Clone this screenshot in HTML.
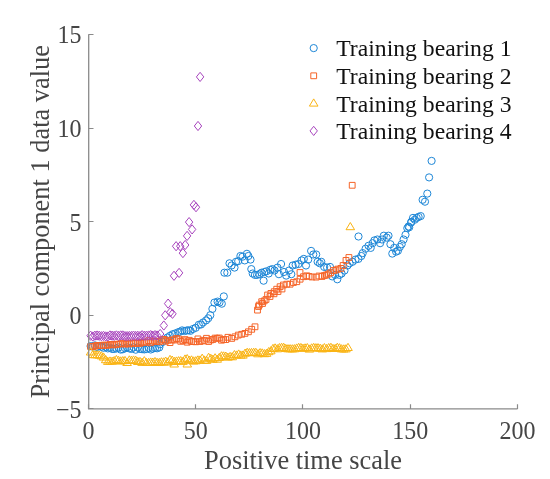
<!DOCTYPE html>
<html><head><meta charset="utf-8"><style>
html,body{margin:0;padding:0;background:#fff;width:550px;height:479px;overflow:hidden}
svg{display:block;filter:blur(0.3px)}
text{font-family:"Liberation Serif",serif}
</style></head><body>
<svg width="550" height="479" viewBox="0 0 550 479">
<rect width="550" height="479" fill="#fff"/>
<path d="M94.2 346.1a3.6 3.6 0 1 0 -7.2 0a3.6 3.6 0 1 0 7.2 0zM96.4 346.6a3.6 3.6 0 1 0 -7.2 0a3.6 3.6 0 1 0 7.2 0zM98.5 345.4a3.6 3.6 0 1 0 -7.2 0a3.6 3.6 0 1 0 7.2 0zM100.7 347.0a3.6 3.6 0 1 0 -7.2 0a3.6 3.6 0 1 0 7.2 0zM102.8 345.9a3.6 3.6 0 1 0 -7.2 0a3.6 3.6 0 1 0 7.2 0zM105.0 346.7a3.6 3.6 0 1 0 -7.2 0a3.6 3.6 0 1 0 7.2 0zM107.1 347.8a3.6 3.6 0 1 0 -7.2 0a3.6 3.6 0 1 0 7.2 0zM109.3 346.9a3.6 3.6 0 1 0 -7.2 0a3.6 3.6 0 1 0 7.2 0zM111.4 348.4a3.6 3.6 0 1 0 -7.2 0a3.6 3.6 0 1 0 7.2 0zM113.5 347.7a3.6 3.6 0 1 0 -7.2 0a3.6 3.6 0 1 0 7.2 0zM115.7 348.9a3.6 3.6 0 1 0 -7.2 0a3.6 3.6 0 1 0 7.2 0zM117.8 349.0a3.6 3.6 0 1 0 -7.2 0a3.6 3.6 0 1 0 7.2 0zM120.0 348.4a3.6 3.6 0 1 0 -7.2 0a3.6 3.6 0 1 0 7.2 0zM122.1 347.5a3.6 3.6 0 1 0 -7.2 0a3.6 3.6 0 1 0 7.2 0zM124.3 349.6a3.6 3.6 0 1 0 -7.2 0a3.6 3.6 0 1 0 7.2 0zM126.4 349.3a3.6 3.6 0 1 0 -7.2 0a3.6 3.6 0 1 0 7.2 0zM128.6 348.3a3.6 3.6 0 1 0 -7.2 0a3.6 3.6 0 1 0 7.2 0zM130.7 347.4a3.6 3.6 0 1 0 -7.2 0a3.6 3.6 0 1 0 7.2 0zM132.9 348.4a3.6 3.6 0 1 0 -7.2 0a3.6 3.6 0 1 0 7.2 0zM135.0 348.9a3.6 3.6 0 1 0 -7.2 0a3.6 3.6 0 1 0 7.2 0zM137.1 347.3a3.6 3.6 0 1 0 -7.2 0a3.6 3.6 0 1 0 7.2 0zM139.3 349.7a3.6 3.6 0 1 0 -7.2 0a3.6 3.6 0 1 0 7.2 0zM141.4 347.5a3.6 3.6 0 1 0 -7.2 0a3.6 3.6 0 1 0 7.2 0zM143.6 348.9a3.6 3.6 0 1 0 -7.2 0a3.6 3.6 0 1 0 7.2 0zM145.7 349.2a3.6 3.6 0 1 0 -7.2 0a3.6 3.6 0 1 0 7.2 0zM147.9 349.4a3.6 3.6 0 1 0 -7.2 0a3.6 3.6 0 1 0 7.2 0zM150.0 349.0a3.6 3.6 0 1 0 -7.2 0a3.6 3.6 0 1 0 7.2 0zM152.2 347.8a3.6 3.6 0 1 0 -7.2 0a3.6 3.6 0 1 0 7.2 0zM154.3 349.5a3.6 3.6 0 1 0 -7.2 0a3.6 3.6 0 1 0 7.2 0zM156.4 348.6a3.6 3.6 0 1 0 -7.2 0a3.6 3.6 0 1 0 7.2 0zM158.6 348.0a3.6 3.6 0 1 0 -7.2 0a3.6 3.6 0 1 0 7.2 0zM160.7 348.3a3.6 3.6 0 1 0 -7.2 0a3.6 3.6 0 1 0 7.2 0zM162.9 347.4a3.6 3.6 0 1 0 -7.2 0a3.6 3.6 0 1 0 7.2 0zM163.6 344.3a3.6 3.6 0 1 0 -7.2 0a3.6 3.6 0 1 0 7.2 0zM166.1 342.0a3.6 3.6 0 1 0 -7.2 0a3.6 3.6 0 1 0 7.2 0zM168.6 339.6a3.6 3.6 0 1 0 -7.2 0a3.6 3.6 0 1 0 7.2 0zM171.1 337.5a3.6 3.6 0 1 0 -7.2 0a3.6 3.6 0 1 0 7.2 0zM173.6 335.8a3.6 3.6 0 1 0 -7.2 0a3.6 3.6 0 1 0 7.2 0zM176.1 334.3a3.6 3.6 0 1 0 -7.2 0a3.6 3.6 0 1 0 7.2 0zM178.6 333.5a3.6 3.6 0 1 0 -7.2 0a3.6 3.6 0 1 0 7.2 0zM181.6 332.3a3.6 3.6 0 1 0 -7.2 0a3.6 3.6 0 1 0 7.2 0zM183.6 331.7a3.6 3.6 0 1 0 -7.2 0a3.6 3.6 0 1 0 7.2 0zM185.7 330.4a3.6 3.6 0 1 0 -7.2 0a3.6 3.6 0 1 0 7.2 0zM188.1 331.0a3.6 3.6 0 1 0 -7.2 0a3.6 3.6 0 1 0 7.2 0zM190.1 330.6a3.6 3.6 0 1 0 -7.2 0a3.6 3.6 0 1 0 7.2 0zM192.0 330.2a3.6 3.6 0 1 0 -7.2 0a3.6 3.6 0 1 0 7.2 0zM194.1 330.8a3.6 3.6 0 1 0 -7.2 0a3.6 3.6 0 1 0 7.2 0zM196.6 329.0a3.6 3.6 0 1 0 -7.2 0a3.6 3.6 0 1 0 7.2 0zM199.3 327.8a3.6 3.6 0 1 0 -7.2 0a3.6 3.6 0 1 0 7.2 0zM202.4 324.8a3.6 3.6 0 1 0 -7.2 0a3.6 3.6 0 1 0 7.2 0zM204.6 324.5a3.6 3.6 0 1 0 -7.2 0a3.6 3.6 0 1 0 7.2 0zM206.6 322.5a3.6 3.6 0 1 0 -7.2 0a3.6 3.6 0 1 0 7.2 0zM209.7 320.4a3.6 3.6 0 1 0 -7.2 0a3.6 3.6 0 1 0 7.2 0zM211.8 318.3a3.6 3.6 0 1 0 -7.2 0a3.6 3.6 0 1 0 7.2 0zM213.9 315.2a3.6 3.6 0 1 0 -7.2 0a3.6 3.6 0 1 0 7.2 0zM216.0 308.9a3.6 3.6 0 1 0 -7.2 0a3.6 3.6 0 1 0 7.2 0zM218.0 302.6a3.6 3.6 0 1 0 -7.2 0a3.6 3.6 0 1 0 7.2 0zM221.2 301.6a3.6 3.6 0 1 0 -7.2 0a3.6 3.6 0 1 0 7.2 0zM223.1 302.5a3.6 3.6 0 1 0 -7.2 0a3.6 3.6 0 1 0 7.2 0zM225.4 303.7a3.6 3.6 0 1 0 -7.2 0a3.6 3.6 0 1 0 7.2 0zM227.4 296.4a3.6 3.6 0 1 0 -7.2 0a3.6 3.6 0 1 0 7.2 0zM228.0 272.7a3.6 3.6 0 1 0 -7.2 0a3.6 3.6 0 1 0 7.2 0zM230.9 272.7a3.6 3.6 0 1 0 -7.2 0a3.6 3.6 0 1 0 7.2 0zM233.1 263.3a3.6 3.6 0 1 0 -7.2 0a3.6 3.6 0 1 0 7.2 0zM235.2 265.5a3.6 3.6 0 1 0 -7.2 0a3.6 3.6 0 1 0 7.2 0zM238.1 267.6a3.6 3.6 0 1 0 -7.2 0a3.6 3.6 0 1 0 7.2 0zM239.6 261.8a3.6 3.6 0 1 0 -7.2 0a3.6 3.6 0 1 0 7.2 0zM241.8 261.1a3.6 3.6 0 1 0 -7.2 0a3.6 3.6 0 1 0 7.2 0zM244.0 256.0a3.6 3.6 0 1 0 -7.2 0a3.6 3.6 0 1 0 7.2 0zM246.1 256.7a3.6 3.6 0 1 0 -7.2 0a3.6 3.6 0 1 0 7.2 0zM248.3 260.4a3.6 3.6 0 1 0 -7.2 0a3.6 3.6 0 1 0 7.2 0zM250.5 253.8a3.6 3.6 0 1 0 -7.2 0a3.6 3.6 0 1 0 7.2 0zM252.0 256.0a3.6 3.6 0 1 0 -7.2 0a3.6 3.6 0 1 0 7.2 0zM254.1 259.6a3.6 3.6 0 1 0 -7.2 0a3.6 3.6 0 1 0 7.2 0zM254.9 269.1a3.6 3.6 0 1 0 -7.2 0a3.6 3.6 0 1 0 7.2 0zM256.3 273.5a3.6 3.6 0 1 0 -7.2 0a3.6 3.6 0 1 0 7.2 0zM258.5 274.9a3.6 3.6 0 1 0 -7.2 0a3.6 3.6 0 1 0 7.2 0zM260.7 274.9a3.6 3.6 0 1 0 -7.2 0a3.6 3.6 0 1 0 7.2 0zM262.9 274.2a3.6 3.6 0 1 0 -7.2 0a3.6 3.6 0 1 0 7.2 0zM265.1 272.7a3.6 3.6 0 1 0 -7.2 0a3.6 3.6 0 1 0 7.2 0zM267.2 280.7a3.6 3.6 0 1 0 -7.2 0a3.6 3.6 0 1 0 7.2 0zM268.0 272.0a3.6 3.6 0 1 0 -7.2 0a3.6 3.6 0 1 0 7.2 0zM270.1 271.3a3.6 3.6 0 1 0 -7.2 0a3.6 3.6 0 1 0 7.2 0zM272.3 273.5a3.6 3.6 0 1 0 -7.2 0a3.6 3.6 0 1 0 7.2 0zM273.8 269.8a3.6 3.6 0 1 0 -7.2 0a3.6 3.6 0 1 0 7.2 0zM276.0 269.1a3.6 3.6 0 1 0 -7.2 0a3.6 3.6 0 1 0 7.2 0zM278.1 270.5a3.6 3.6 0 1 0 -7.2 0a3.6 3.6 0 1 0 7.2 0zM281.1 267.6a3.6 3.6 0 1 0 -7.2 0a3.6 3.6 0 1 0 7.2 0zM282.5 274.2a3.6 3.6 0 1 0 -7.2 0a3.6 3.6 0 1 0 7.2 0zM284.7 264.0a3.6 3.6 0 1 0 -7.2 0a3.6 3.6 0 1 0 7.2 0zM287.6 272.0a3.6 3.6 0 1 0 -7.2 0a3.6 3.6 0 1 0 7.2 0zM289.8 275.6a3.6 3.6 0 1 0 -7.2 0a3.6 3.6 0 1 0 7.2 0zM292.7 270.5a3.6 3.6 0 1 0 -7.2 0a3.6 3.6 0 1 0 7.2 0zM294.9 274.2a3.6 3.6 0 1 0 -7.2 0a3.6 3.6 0 1 0 7.2 0zM296.3 265.5a3.6 3.6 0 1 0 -7.2 0a3.6 3.6 0 1 0 7.2 0zM299.2 264.7a3.6 3.6 0 1 0 -7.2 0a3.6 3.6 0 1 0 7.2 0zM302.1 264.0a3.6 3.6 0 1 0 -7.2 0a3.6 3.6 0 1 0 7.2 0zM305.2 260.4a3.6 3.6 0 1 0 -7.2 0a3.6 3.6 0 1 0 7.2 0zM307.4 258.9a3.6 3.6 0 1 0 -7.2 0a3.6 3.6 0 1 0 7.2 0zM309.6 265.5a3.6 3.6 0 1 0 -7.2 0a3.6 3.6 0 1 0 7.2 0zM311.8 259.6a3.6 3.6 0 1 0 -7.2 0a3.6 3.6 0 1 0 7.2 0zM314.7 250.9a3.6 3.6 0 1 0 -7.2 0a3.6 3.6 0 1 0 7.2 0zM316.9 254.5a3.6 3.6 0 1 0 -7.2 0a3.6 3.6 0 1 0 7.2 0zM319.8 254.5a3.6 3.6 0 1 0 -7.2 0a3.6 3.6 0 1 0 7.2 0zM321.2 261.8a3.6 3.6 0 1 0 -7.2 0a3.6 3.6 0 1 0 7.2 0zM323.4 263.3a3.6 3.6 0 1 0 -7.2 0a3.6 3.6 0 1 0 7.2 0zM324.9 261.8a3.6 3.6 0 1 0 -7.2 0a3.6 3.6 0 1 0 7.2 0zM327.8 266.9a3.6 3.6 0 1 0 -7.2 0a3.6 3.6 0 1 0 7.2 0zM330.7 267.6a3.6 3.6 0 1 0 -7.2 0a3.6 3.6 0 1 0 7.2 0zM333.6 266.9a3.6 3.6 0 1 0 -7.2 0a3.6 3.6 0 1 0 7.2 0zM335.8 276.4a3.6 3.6 0 1 0 -7.2 0a3.6 3.6 0 1 0 7.2 0zM338.7 274.9a3.6 3.6 0 1 0 -7.2 0a3.6 3.6 0 1 0 7.2 0zM340.9 279.3a3.6 3.6 0 1 0 -7.2 0a3.6 3.6 0 1 0 7.2 0zM343.1 274.9a3.6 3.6 0 1 0 -7.2 0a3.6 3.6 0 1 0 7.2 0zM345.2 273.5a3.6 3.6 0 1 0 -7.2 0a3.6 3.6 0 1 0 7.2 0zM348.1 270.5a3.6 3.6 0 1 0 -7.2 0a3.6 3.6 0 1 0 7.2 0zM351.1 265.5a3.6 3.6 0 1 0 -7.2 0a3.6 3.6 0 1 0 7.2 0zM353.2 263.3a3.6 3.6 0 1 0 -7.2 0a3.6 3.6 0 1 0 7.2 0zM356.1 261.8a3.6 3.6 0 1 0 -7.2 0a3.6 3.6 0 1 0 7.2 0zM359.1 259.6a3.6 3.6 0 1 0 -7.2 0a3.6 3.6 0 1 0 7.2 0zM362.0 258.9a3.6 3.6 0 1 0 -7.2 0a3.6 3.6 0 1 0 7.2 0zM364.9 256.0a3.6 3.6 0 1 0 -7.2 0a3.6 3.6 0 1 0 7.2 0zM366.3 253.1a3.6 3.6 0 1 0 -7.2 0a3.6 3.6 0 1 0 7.2 0zM369.2 248.7a3.6 3.6 0 1 0 -7.2 0a3.6 3.6 0 1 0 7.2 0zM372.1 245.8a3.6 3.6 0 1 0 -7.2 0a3.6 3.6 0 1 0 7.2 0zM362.1 236.5a3.6 3.6 0 1 0 -7.2 0a3.6 3.6 0 1 0 7.2 0zM374.3 247.9a3.6 3.6 0 1 0 -7.2 0a3.6 3.6 0 1 0 7.2 0zM376.2 243.2a3.6 3.6 0 1 0 -7.2 0a3.6 3.6 0 1 0 7.2 0zM378.0 240.4a3.6 3.6 0 1 0 -7.2 0a3.6 3.6 0 1 0 7.2 0zM380.9 239.5a3.6 3.6 0 1 0 -7.2 0a3.6 3.6 0 1 0 7.2 0zM383.7 243.2a3.6 3.6 0 1 0 -7.2 0a3.6 3.6 0 1 0 7.2 0zM385.6 239.5a3.6 3.6 0 1 0 -7.2 0a3.6 3.6 0 1 0 7.2 0zM387.4 235.7a3.6 3.6 0 1 0 -7.2 0a3.6 3.6 0 1 0 7.2 0zM390.3 237.6a3.6 3.6 0 1 0 -7.2 0a3.6 3.6 0 1 0 7.2 0zM392.1 235.7a3.6 3.6 0 1 0 -7.2 0a3.6 3.6 0 1 0 7.2 0zM394.0 244.2a3.6 3.6 0 1 0 -7.2 0a3.6 3.6 0 1 0 7.2 0zM395.9 253.6a3.6 3.6 0 1 0 -7.2 0a3.6 3.6 0 1 0 7.2 0zM397.8 247.9a3.6 3.6 0 1 0 -7.2 0a3.6 3.6 0 1 0 7.2 0zM399.7 251.7a3.6 3.6 0 1 0 -7.2 0a3.6 3.6 0 1 0 7.2 0zM401.5 250.8a3.6 3.6 0 1 0 -7.2 0a3.6 3.6 0 1 0 7.2 0zM403.4 247.0a3.6 3.6 0 1 0 -7.2 0a3.6 3.6 0 1 0 7.2 0zM405.3 244.2a3.6 3.6 0 1 0 -7.2 0a3.6 3.6 0 1 0 7.2 0zM407.2 239.5a3.6 3.6 0 1 0 -7.2 0a3.6 3.6 0 1 0 7.2 0zM409.1 234.8a3.6 3.6 0 1 0 -7.2 0a3.6 3.6 0 1 0 7.2 0zM410.9 228.2a3.6 3.6 0 1 0 -7.2 0a3.6 3.6 0 1 0 7.2 0zM412.1 226.5a3.6 3.6 0 1 0 -7.2 0a3.6 3.6 0 1 0 7.2 0zM412.8 227.3a3.6 3.6 0 1 0 -7.2 0a3.6 3.6 0 1 0 7.2 0zM414.7 222.6a3.6 3.6 0 1 0 -7.2 0a3.6 3.6 0 1 0 7.2 0zM414.9 221.8a3.6 3.6 0 1 0 -7.2 0a3.6 3.6 0 1 0 7.2 0zM416.6 217.9a3.6 3.6 0 1 0 -7.2 0a3.6 3.6 0 1 0 7.2 0zM418.4 219.7a3.6 3.6 0 1 0 -7.2 0a3.6 3.6 0 1 0 7.2 0zM420.3 217.9a3.6 3.6 0 1 0 -7.2 0a3.6 3.6 0 1 0 7.2 0zM422.2 216.9a3.6 3.6 0 1 0 -7.2 0a3.6 3.6 0 1 0 7.2 0zM424.3 216.1a3.6 3.6 0 1 0 -7.2 0a3.6 3.6 0 1 0 7.2 0zM426.2 199.8a3.6 3.6 0 1 0 -7.2 0a3.6 3.6 0 1 0 7.2 0zM428.6 201.7a3.6 3.6 0 1 0 -7.2 0a3.6 3.6 0 1 0 7.2 0zM430.9 193.6a3.6 3.6 0 1 0 -7.2 0a3.6 3.6 0 1 0 7.2 0zM432.7 177.4a3.6 3.6 0 1 0 -7.2 0a3.6 3.6 0 1 0 7.2 0zM435.2 160.9a3.6 3.6 0 1 0 -7.2 0a3.6 3.6 0 1 0 7.2 0z" fill="none" stroke="#1E87D7" stroke-width="1.0"/>
<path d="M87.7 343.7h5.8v5.8h-5.8zM89.9 343.6h5.8v5.8h-5.8zM92.0 343.2h5.8v5.8h-5.8zM94.2 342.5h5.8v5.8h-5.8zM96.3 342.7h5.8v5.8h-5.8zM98.5 342.7h5.8v5.8h-5.8zM100.6 342.2h5.8v5.8h-5.8zM102.8 342.3h5.8v5.8h-5.8zM104.9 342.4h5.8v5.8h-5.8zM107.0 341.6h5.8v5.8h-5.8zM109.2 341.6h5.8v5.8h-5.8zM111.3 342.0h5.8v5.8h-5.8zM113.5 341.4h5.8v5.8h-5.8zM115.6 341.3h5.8v5.8h-5.8zM117.8 340.7h5.8v5.8h-5.8zM119.9 340.8h5.8v5.8h-5.8zM122.1 341.2h5.8v5.8h-5.8zM124.2 340.2h5.8v5.8h-5.8zM126.4 341.1h5.8v5.8h-5.8zM128.5 340.6h5.8v5.8h-5.8zM130.6 340.0h5.8v5.8h-5.8zM132.8 340.6h5.8v5.8h-5.8zM134.9 340.0h5.8v5.8h-5.8zM137.1 340.5h5.8v5.8h-5.8zM139.2 339.5h5.8v5.8h-5.8zM141.4 339.2h5.8v5.8h-5.8zM143.5 339.3h5.8v5.8h-5.8zM145.7 337.7h5.8v5.8h-5.8zM147.8 339.9h5.8v5.8h-5.8zM149.9 338.2h5.8v5.8h-5.8zM152.1 338.5h5.8v5.8h-5.8zM154.2 338.4h5.8v5.8h-5.8zM156.4 338.8h5.8v5.8h-5.8zM158.5 337.1h5.8v5.8h-5.8zM160.7 336.5h5.8v5.8h-5.8zM162.8 338.3h5.8v5.8h-5.8zM165.0 337.4h5.8v5.8h-5.8zM167.1 339.7h5.8v5.8h-5.8zM169.3 337.0h5.8v5.8h-5.8zM171.4 337.1h5.8v5.8h-5.8zM173.5 335.6h5.8v5.8h-5.8zM175.7 336.2h5.8v5.8h-5.8zM177.8 338.4h5.8v5.8h-5.8zM180.0 337.9h5.8v5.8h-5.8zM182.1 336.7h5.8v5.8h-5.8zM184.3 339.3h5.8v5.8h-5.8zM186.4 337.4h5.8v5.8h-5.8zM188.6 338.6h5.8v5.8h-5.8zM190.7 338.7h5.8v5.8h-5.8zM192.8 338.9h5.8v5.8h-5.8zM195.0 336.0h5.8v5.8h-5.8zM197.1 338.6h5.8v5.8h-5.8zM199.3 338.0h5.8v5.8h-5.8zM201.4 337.4h5.8v5.8h-5.8zM203.6 335.4h5.8v5.8h-5.8zM205.7 338.6h5.8v5.8h-5.8zM207.9 337.1h5.8v5.8h-5.8zM210.0 336.6h5.8v5.8h-5.8zM212.2 335.2h5.8v5.8h-5.8zM214.3 335.4h5.8v5.8h-5.8zM216.4 335.1h5.8v5.8h-5.8zM218.6 337.3h5.8v5.8h-5.8zM220.7 336.6h5.8v5.8h-5.8zM222.9 336.7h5.8v5.8h-5.8zM225.0 334.4h5.8v5.8h-5.8zM228.8 335.5h5.8v5.8h-5.8zM232.1 333.9h5.8v5.8h-5.8zM235.4 332.2h5.8v5.8h-5.8zM238.8 331.4h5.8v5.8h-5.8zM242.1 330.5h5.8v5.8h-5.8zM245.5 328.9h5.8v5.8h-5.8zM248.8 326.4h5.8v5.8h-5.8zM252.1 323.9h5.8v5.8h-5.8zM254.6 307.2h5.8v5.8h-5.8zM256.3 302.2h5.8v5.8h-5.8zM258.8 298.8h5.8v5.8h-5.8zM261.3 298.0h5.8v5.8h-5.8zM264.7 292.1h5.8v5.8h-5.8zM268.0 290.5h5.8v5.8h-5.8zM271.3 288.8h5.8v5.8h-5.8zM273.8 286.3h5.8v5.8h-5.8zM277.2 283.8h5.8v5.8h-5.8zM280.5 282.1h5.8v5.8h-5.8zM283.9 281.3h5.8v5.8h-5.8zM287.2 281.3h5.8v5.8h-5.8zM290.5 279.6h5.8v5.8h-5.8zM293.9 278.8h5.8v5.8h-5.8zM297.2 276.3h5.8v5.8h-5.8zM297.1 269.6h5.8v5.8h-5.8zM300.6 273.8h5.8v5.8h-5.8zM303.9 272.9h5.8v5.8h-5.8zM306.1 273.5h5.8v5.8h-5.8zM309.1 274.1h5.8v5.8h-5.8zM313.3 274.2h5.8v5.8h-5.8zM316.1 273.1h5.8v5.8h-5.8zM319.1 273.6h5.8v5.8h-5.8zM321.6 272.6h5.8v5.8h-5.8zM323.5 272.0h5.8v5.8h-5.8zM325.6 271.1h5.8v5.8h-5.8zM327.8 269.8h5.8v5.8h-5.8zM330.7 267.6h5.8v5.8h-5.8zM333.1 267.1h5.8v5.8h-5.8zM335.1 266.2h5.8v5.8h-5.8zM338.0 265.5h5.8v5.8h-5.8zM340.2 262.6h5.8v5.8h-5.8zM343.1 257.5h5.8v5.8h-5.8zM346.0 254.6h5.8v5.8h-5.8zM349.3 182.4h5.8v5.8h-5.8zM259.6 300.6h5.8v5.8h-5.8zM263.1 296.6h5.8v5.8h-5.8zM267.1 293.6h5.8v5.8h-5.8zM271.1 290.9h5.8v5.8h-5.8zM275.1 288.6h5.8v5.8h-5.8zM279.1 286.1h5.8v5.8h-5.8zM255.6 303.6h5.8v5.8h-5.8z" fill="none" stroke="#F56428" stroke-width="1.0"/>
<path d="M90.6 347.8L94.9 355.0L86.3 355.0zM92.8 350.4L97.1 357.6L88.5 357.6zM94.9 350.6L99.2 357.8L90.6 357.8zM97.1 350.6L101.4 357.8L92.8 357.8zM99.2 350.9L103.5 358.1L94.9 358.1zM101.4 351.7L105.7 358.9L97.1 358.9zM103.5 352.9L107.8 360.1L99.2 360.1zM105.7 355.5L110.0 362.7L101.4 362.7zM107.8 357.2L112.1 364.4L103.5 364.4zM110.0 356.9L114.2 364.1L105.7 364.1zM112.1 357.1L116.4 364.3L107.8 364.3zM114.2 356.5L118.5 363.7L109.9 363.7zM116.4 355.4L120.7 362.6L112.1 362.6zM118.5 356.2L122.8 363.4L114.2 363.4zM120.7 356.8L125.0 364.0L116.4 364.0zM122.8 356.5L127.1 363.7L118.5 363.7zM125.0 356.4L129.3 363.6L120.7 363.6zM127.1 358.3L131.4 365.5L122.8 365.5zM129.3 355.8L133.6 363.0L125.0 363.0zM131.4 356.2L135.7 363.4L127.1 363.4zM133.5 355.9L137.8 363.1L129.2 363.1zM135.7 356.1L140.0 363.3L131.4 363.3zM137.8 357.3L142.1 364.5L133.5 364.5zM140.0 357.3L144.3 364.5L135.7 364.5zM142.1 358.2L146.4 365.4L137.8 365.4zM144.3 356.6L148.6 363.8L140.0 363.8zM146.4 358.3L150.7 365.5L142.1 365.5zM148.6 358.3L152.9 365.5L144.3 365.5zM150.7 357.9L155.0 365.1L146.4 365.1zM152.8 358.0L157.2 365.2L148.5 365.2zM155.0 357.4L159.3 364.6L150.7 364.6zM157.1 358.2L161.4 365.4L152.8 365.4zM159.3 358.3L163.6 365.5L155.0 365.5zM161.4 357.7L165.7 364.9L157.1 364.9zM163.6 357.8L167.9 365.0L159.3 365.0zM165.7 357.0L170.0 364.2L161.4 364.2zM167.9 357.9L172.2 365.1L163.6 365.1zM170.0 355.3L174.3 362.5L165.7 362.5zM172.2 356.0L176.5 363.2L167.9 363.2zM174.3 357.3L178.6 364.5L170.0 364.5zM176.4 356.9L180.7 364.1L172.1 364.1zM178.6 356.6L182.9 363.8L174.3 363.8zM180.7 356.5L185.0 363.7L176.4 363.7zM182.9 357.2L187.2 364.4L178.6 364.4zM185.0 354.9L189.3 362.1L180.7 362.1zM187.2 354.5L191.5 361.7L182.9 361.7zM189.3 356.0L193.6 363.2L185.0 363.2zM191.5 355.8L195.8 363.0L187.2 363.0zM193.6 356.8L197.9 364.0L189.3 364.0zM195.8 356.6L200.1 363.8L191.4 363.8zM197.9 355.8L202.2 363.0L193.6 363.0zM200.0 355.9L204.3 363.1L195.7 363.1zM202.2 354.1L206.5 361.3L197.9 361.3zM204.3 355.9L208.6 363.1L200.0 363.1zM206.5 356.2L210.8 363.4L202.2 363.4zM208.6 353.2L212.9 360.4L204.3 360.4zM210.8 354.2L215.1 361.4L206.5 361.4zM212.9 355.1L217.2 362.3L208.6 362.3zM215.1 353.7L219.4 360.9L210.8 360.9zM217.2 355.0L221.5 362.2L212.9 362.2zM219.3 353.3L223.6 360.5L215.0 360.5zM221.5 351.7L225.8 358.9L217.2 358.9zM223.6 351.8L227.9 359.0L219.3 359.0zM225.8 352.0L230.1 359.2L221.5 359.2zM227.9 353.0L232.2 360.2L223.6 360.2zM230.1 352.3L234.4 359.5L225.8 359.5zM232.2 352.6L236.5 359.8L227.9 359.8zM234.4 350.5L238.7 357.7L230.1 357.7zM236.5 350.9L240.8 358.1L232.2 358.1zM238.7 349.9L243.0 357.1L234.3 357.1zM240.8 350.9L245.1 358.1L236.5 358.1zM242.9 350.9L247.2 358.1L238.6 358.1zM245.1 349.0L249.4 356.2L240.8 356.2zM247.2 348.2L251.5 355.4L242.9 355.4zM249.4 348.5L253.7 355.7L245.1 355.7zM251.5 348.4L255.8 355.6L247.2 355.6zM253.7 348.2L258.0 355.4L249.4 355.4zM255.8 348.2L260.1 355.4L251.5 355.4zM258.0 349.6L262.3 356.8L253.7 356.8zM260.1 348.5L264.4 355.7L255.8 355.7zM262.2 348.8L266.5 356.0L257.9 356.0zM264.4 349.5L268.7 356.7L260.1 356.7zM266.5 349.2L270.8 356.4L262.2 356.4zM268.7 347.5L273.0 354.7L264.4 354.7zM270.8 346.6L275.1 353.8L266.5 353.8zM273.0 344.3L277.3 351.5L268.7 351.5zM275.1 343.8L279.4 351.0L270.8 351.0zM277.3 344.6L281.6 351.8L273.0 351.8zM279.4 343.5L283.7 350.7L275.1 350.7zM281.6 343.2L285.9 350.4L277.2 350.4zM283.7 343.2L288.0 350.4L279.4 350.4zM285.8 344.3L290.1 351.5L281.5 351.5zM288.0 344.6L292.3 351.8L283.7 351.8zM290.1 344.6L294.4 351.8L285.8 351.8zM292.3 344.7L296.6 351.9L288.0 351.9zM294.4 344.6L298.7 351.8L290.1 351.8zM296.6 343.9L300.9 351.1L292.3 351.1zM298.7 343.3L303.0 350.5L294.4 350.5zM300.9 343.4L305.2 350.6L296.6 350.6zM303.0 344.1L307.3 351.3L298.7 351.3zM305.1 343.8L309.4 351.0L300.8 351.0zM307.3 343.5L311.6 350.7L303.0 350.7zM309.4 344.9L313.7 352.1L305.1 352.1zM311.6 343.8L315.9 351.0L307.3 351.0zM313.7 343.3L318.0 350.5L309.4 350.5zM315.9 343.6L320.2 350.8L311.6 350.8zM318.0 343.6L322.3 350.8L313.7 350.8zM320.2 344.1L324.5 351.3L315.9 351.3zM322.3 344.7L326.6 351.9L318.0 351.9zM324.4 343.5L328.8 350.7L320.1 350.7zM326.6 344.4L330.9 351.6L322.3 351.6zM328.7 343.5L333.0 350.7L324.4 350.7zM330.9 343.2L335.2 350.4L326.6 350.4zM333.0 344.3L337.3 351.5L328.7 351.5zM335.2 344.3L339.5 351.5L330.9 351.5zM337.3 343.2L341.6 350.4L333.0 350.4zM339.5 343.7L343.8 350.9L335.2 350.9zM341.6 344.7L345.9 351.9L337.3 351.9zM343.8 344.8L348.1 352.0L339.5 352.0zM345.9 344.7L350.2 351.9L341.6 351.9zM348.0 343.3L352.3 350.5L343.7 350.5zM174.2 359.8L178.5 367.0L169.9 367.0zM187.3 359.8L191.6 367.0L183.0 367.0zM350.3 222.5L354.6 229.7L346.0 229.7z" fill="none" stroke="#FAB414" stroke-width="1.0"/>
<path d="M90.6 331.1L94.3 335.7L90.6 340.3L86.9 335.7zM92.8 331.9L96.5 336.5L92.8 341.1L89.1 336.5zM94.9 331.1L98.6 335.7L94.9 340.3L91.2 335.7zM97.1 330.9L100.8 335.5L97.1 340.1L93.4 335.5zM99.2 331.2L102.9 335.8L99.2 340.4L95.5 335.8zM101.4 331.6L105.1 336.2L101.4 340.8L97.7 336.2zM103.5 331.3L107.2 335.9L103.5 340.5L99.8 335.9zM105.7 331.8L109.4 336.4L105.7 341.0L102.0 336.4zM107.8 331.9L111.5 336.5L107.8 341.1L104.1 336.5zM110.0 330.8L113.7 335.4L110.0 340.0L106.2 335.4zM112.1 331.1L115.8 335.7L112.1 340.3L108.4 335.7zM114.2 331.3L117.9 335.9L114.2 340.5L110.5 335.9zM116.4 330.8L120.1 335.4L116.4 340.0L112.7 335.4zM118.5 331.3L122.2 335.9L118.5 340.5L114.8 335.9zM120.7 330.8L124.4 335.4L120.7 340.0L117.0 335.4zM122.8 330.8L126.5 335.4L122.8 340.0L119.1 335.4zM125.0 331.5L128.7 336.1L125.0 340.7L121.3 336.1zM127.1 331.5L130.8 336.1L127.1 340.7L123.4 336.1zM129.3 331.4L133.0 336.0L129.3 340.6L125.6 336.0zM131.4 331.4L135.1 336.0L131.4 340.6L127.7 336.0zM133.5 331.0L137.2 335.6L133.5 340.2L129.8 335.6zM135.7 331.4L139.4 336.0L135.7 340.6L132.0 336.0zM137.8 331.2L141.5 335.8L137.8 340.4L134.1 335.8zM140.0 331.5L143.7 336.1L140.0 340.7L136.3 336.1zM142.1 330.6L145.8 335.2L142.1 339.8L138.4 335.2zM144.3 331.2L148.0 335.8L144.3 340.4L140.6 335.8zM146.4 331.1L150.1 335.7L146.4 340.3L142.7 335.7zM148.6 330.9L152.3 335.5L148.6 340.1L144.9 335.5zM150.7 330.5L154.4 335.1L150.7 339.7L147.0 335.1zM152.8 331.1L156.5 335.7L152.8 340.3L149.2 335.7zM155.0 330.5L158.7 335.1L155.0 339.7L151.3 335.1zM157.1 330.9L160.8 335.5L157.1 340.1L153.4 335.5zM160.2 329.4L163.9 334.0L160.2 338.6L156.5 334.0zM163.8 320.9L167.5 325.5L163.8 330.1L160.1 325.5zM165.2 310.7L168.9 315.3L165.2 319.9L161.5 315.3zM168.1 299.0L171.8 303.6L168.1 308.2L164.4 303.6zM170.3 307.7L174.0 312.3L170.3 316.9L166.6 312.3zM172.5 309.2L176.2 313.8L172.5 318.4L168.8 313.8zM174.0 271.2L177.7 275.8L174.0 280.4L170.3 275.8zM179.1 268.3L182.8 272.9L179.1 277.5L175.4 272.9zM176.1 241.6L179.8 246.2L176.1 250.8L172.4 246.2zM180.2 241.6L183.9 246.2L180.2 250.8L176.5 246.2zM182.9 248.5L186.6 253.1L182.9 257.7L179.2 253.1zM185.2 240.4L188.9 245.0L185.2 249.6L181.5 245.0zM187.1 231.3L190.8 235.9L187.1 240.5L183.4 235.9zM189.1 217.5L192.8 222.1L189.1 226.7L185.4 222.1zM192.1 224.8L195.8 229.4L192.1 234.0L188.4 229.4zM193.9 200.3L197.6 204.9L193.9 209.5L190.2 204.9zM196.0 202.6L199.7 207.2L196.0 211.8L192.3 207.2zM198.0 121.4L201.7 126.0L198.0 130.6L194.3 126.0zM200.1 72.3L203.8 76.9L200.1 81.5L196.4 76.9z" fill="none" stroke="#A845BE" stroke-width="1.0"/>
<path d="M88.7 34.3V408.9H517.5" fill="none" stroke="#8a8a8a" stroke-width="1.3"/>
<path d="M88.7 34.5h4.8M88.7 128.5h4.8M88.7 221.5h4.8M88.7 315.5h4.8M88.7 408.5h4.8M88.5 408.9v-4.7M195.5 408.9v-4.7M302.5 408.9v-4.7M410.5 408.9v-4.7M517.5 408.9v-4.7" fill="none" stroke="#8a8a8a" stroke-width="1.2"/>
<g font-family="Liberation Serif" font-size="24" fill="#454545"><text transform="translate(81.5 35.00) scale(1 1.05)" y="7.9" text-anchor="end">15</text><text transform="translate(81.5 128.60) scale(1 1.05)" y="7.9" text-anchor="end">10</text><text transform="translate(81.5 222.20) scale(1 1.05)" y="7.9" text-anchor="end">5</text><text transform="translate(81.5 315.80) scale(1 1.05)" y="7.9" text-anchor="end">0</text><text transform="translate(81.5 409.40) scale(1 1.05)" y="7.9" text-anchor="end">−5</text><text transform="translate(88.5 430.5) scale(1 1.05)" y="7.9" text-anchor="middle">0</text><text transform="translate(195.8 430.5) scale(1 1.05)" y="7.9" text-anchor="middle">50</text><text transform="translate(303.0 430.5) scale(1 1.05)" y="7.9" text-anchor="middle">100</text><text transform="translate(410.2 430.5) scale(1 1.05)" y="7.9" text-anchor="middle">150</text><text transform="translate(517.5 430.5) scale(1 1.05)" y="7.9" text-anchor="middle">200</text></g>
<text x="303" y="469" text-anchor="middle" font-family="Liberation Serif" font-size="26.4" fill="#454545">Positive time scale</text>
<text transform="translate(49.4 221.7) rotate(-90)" text-anchor="middle" font-family="Liberation Serif" font-size="26.4" fill="#454545">Principal component 1 data value</text>
<path d="M317.3 48.1a3.6 3.6 0 1 0 -7.2 0a3.6 3.6 0 1 0 7.2 0z" fill="none" stroke="#1E87D7" stroke-width="1.0"/>
<text transform="translate(336.2 56.4) scale(0.987 1)" font-family="Liberation Serif" font-size="24" fill="#111">Training bearing 1</text>
<path d="M310.8 72.9h5.8v5.8h-5.8z" fill="none" stroke="#F56428" stroke-width="1.0"/>
<text transform="translate(336.2 84.0) scale(0.987 1)" font-family="Liberation Serif" font-size="24" fill="#111">Training bearing 2</text>
<path d="M313.7 98.9L318.0 106.1L309.4 106.1z" fill="none" stroke="#FAB414" stroke-width="1.0"/>
<text transform="translate(336.2 111.6) scale(0.987 1)" font-family="Liberation Serif" font-size="24" fill="#111">Training bearing 3</text>
<path d="M313.7 126.3L317.4 130.9L313.7 135.5L310.0 130.9z" fill="none" stroke="#A845BE" stroke-width="1.0"/>
<text transform="translate(336.2 139.2) scale(0.987 1)" font-family="Liberation Serif" font-size="24" fill="#111">Training bearing 4</text>
</svg>
</body></html>
